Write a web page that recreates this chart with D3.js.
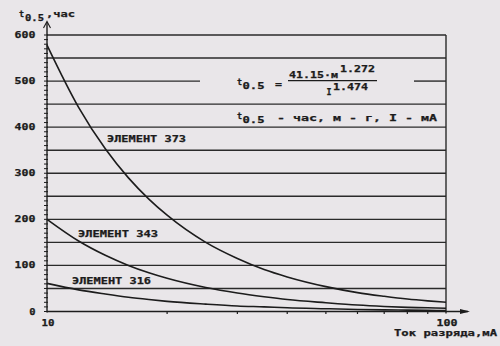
<!DOCTYPE html>
<html>
<head>
<meta charset="utf-8">
<script src="https://cdn.jsdelivr.net/npm/d3@7"></script>
<style>
  html, body { margin: 0; padding: 0; background: #e9e6e9; }
  svg { display: block; }
  text { font-family: "DejaVu Sans Mono", monospace; font-weight: bold; fill: #1c1c1c; stroke: #1c1c1c; stroke-width: 0.25; }
</style>
</head>
<body>
<svg id="chart" width="500" height="346"></svg>
<script>
// Discharge current, mA
const current = [10, 12, 14, 16, 18, 20, 25, 30, 35, 40, 50, 60, 70, 80, 90, 100];
// Half-discharge time t0.5, hours, per cell type
const elem373 = [578, 443, 353, 290, 244, 209, 150, 115, 91, 75, 54, 41, 33, 27, 23, 20];
const elem343 = [200, 153, 122, 100, 84, 72, 52, 40, 32, 26, 19, 14, 11, 9, 8, 7];
const elem316 = [61, 47, 38, 31, 26, 22, 16, 12, 10, 8, 6, 4.5, 3.5, 3, 2.5, 2];
const seriesNames = ["ЭЛЕМЕНТ 373", "ЭЛЕМЕНТ 343", "ЭЛЕМЕНТ 316"];
const yTicks = [0, 100, 200, 300, 400, 500, 600];
const gridValues = [50, 100, 150, 200, 250, 300, 350, 400, 450, 500, 550, 600];
const xMinor = [20, 30, 40, 50, 60, 70, 80, 90];

const svg = d3.select("#chart");
const ink = "#1c1c1c";

const x = d3.scaleLog().domain([10, 100]).range([47, 446]);
const y = d3.scaleLinear().domain([0, 600]).range([311.5, 35]);

// horizontal grid; the 500 line leaves room for the formula
const g = svg.append("g").attr("stroke", "#2a2a2a").attr("stroke-width", 1.4);
gridValues.forEach(v => {
  if (v === 500) {
    g.append("line").attr("x1", x(10)).attr("x2", 200).attr("y1", y(v)).attr("y2", y(v));
    g.append("line").attr("x1", 414).attr("x2", x(100)).attr("y1", y(v)).attr("y2", y(v));
  } else {
    g.append("line").attr("x1", x(10)).attr("x2", x(100)).attr("y1", y(v)).attr("y2", y(v));
  }
});
// right frame
g.append("line").attr("x1", x(100)).attr("x2", x(100)).attr("y1", y(600)).attr("y2", y(0) + 2);

// y axis with minor ticks every 10
const ax = svg.append("g").attr("stroke", ink).attr("stroke-width", 1.4);
ax.append("line").attr("x1", x(10)).attr("x2", x(10)).attr("y1", 22).attr("y2", y(0) + 1);
d3.range(0, 601, 10).forEach(v => {
  ax.append("line").attr("x1", x(10) - 3).attr("x2", x(10) + 1)
    .attr("y1", y(v)).attr("y2", y(v)).attr("stroke-width", 1);
});
ax.append("path").attr("fill", "none").attr("stroke-width", 1.1)
  .attr("d", `M${x(10) - 3.5},28 L${x(10)},21.5 L${x(10) + 3.5},28`);

// x axis with arrow
ax.append("line").attr("x1", x(10)).attr("x2", 468).attr("y1", y(0)).attr("y2", y(0));
ax.append("path").attr("fill", ink).attr("stroke", "none")
  .attr("d", `M470,${y(0)} L460,${y(0) - 2.5} L460,${y(0) + 2.5} Z`);
xMinor.forEach(v => {
  ax.append("line").attr("x1", x(v)).attr("x2", x(v))
    .attr("y1", y(0)).attr("y2", y(0) + 2.5).attr("stroke-width", 1.2);
});

// y tick labels
yTicks.forEach(v => {
  const s = String(v);
  svg.append("text").attr("x", 35.5).attr("y", y(v) + 3)
    .attr("text-anchor", "end").attr("font-size", 8.5)
    .attr("textLength", s.length * 7.3 - 1).attr("lengthAdjust", "spacingAndGlyphs")
    .text(s);
});

// x tick labels
[[10, 13], [100, 21]].forEach(([v, w]) => {
  svg.append("text").attr("x", x(v) + 1).attr("y", 325.5)
    .attr("text-anchor", "middle").attr("font-size", 8.5)
    .attr("textLength", w).attr("lengthAdjust", "spacingAndGlyphs")
    .text(String(v));
});

// axis titles
svg.append("text").attr("x", 394).attr("y", 335.5).attr("font-size", 8.5)
  .attr("textLength", 103).attr("lengthAdjust", "spacingAndGlyphs").text("Ток разряда,мА");
svg.append("text").attr("x", 19).attr("y", 16.5).attr("font-size", 8.5).text("t");
svg.append("text").attr("x", 25).attr("y", 20.5).attr("font-size", 8.5)
  .attr("textLength", 19).attr("lengthAdjust", "spacingAndGlyphs").text("0.5");
svg.append("text").attr("x", 46).attr("y", 17).attr("font-size", 8)
  .attr("textLength", 29).attr("lengthAdjust", "spacingAndGlyphs").text(",час");

// curves
const line = d3.line().x((d, i) => x(current[i])).y(d => y(d)).curve(d3.curveMonotoneX);
[elem373, elem343, elem316].forEach(vals => {
  svg.append("path").datum(vals).attr("fill", "none")
    .attr("stroke", ink).attr("stroke-width", 1.6).attr("d", line);
});

// series labels
[[107, 142, 79], [78, 236.5, 80], [72, 284, 79]].forEach(([lx, ly, w], i) => {
  svg.append("text").attr("x", lx).attr("y", ly).attr("font-size", 8.5)
    .attr("textLength", w).attr("lengthAdjust", "spacingAndGlyphs").text(seriesNames[i]);
});

// formula
const f = svg.append("g").attr("font-size", 8.5);
const put = (tx, ty, s, w) => {
  const t = f.append("text").attr("x", tx).attr("y", ty).text(s);
  if (w) t.attr("textLength", w).attr("lengthAdjust", "spacingAndGlyphs");
};
put(237, 85, "t");
put(242.5, 88.5, "0.5", 22);
put(275, 86.5, "=", 7);
put(289, 77.5, "41.15·м", 49);
put(340, 71.5, "1.272", 35);
f.append("line").attr("x1", 288).attr("x2", 377).attr("y1", 80.7).attr("y2", 80.7)
  .attr("stroke", ink).attr("stroke-width", 1.2);
put(326.5, 95, "I", 5);
put(333, 90, "1.474", 35);
put(237, 119, "t");
put(242.5, 122.5, "0.5", 22);
put(277, 121, "- час, м - г, I - мА", 160);
</script>
</body>
</html>
